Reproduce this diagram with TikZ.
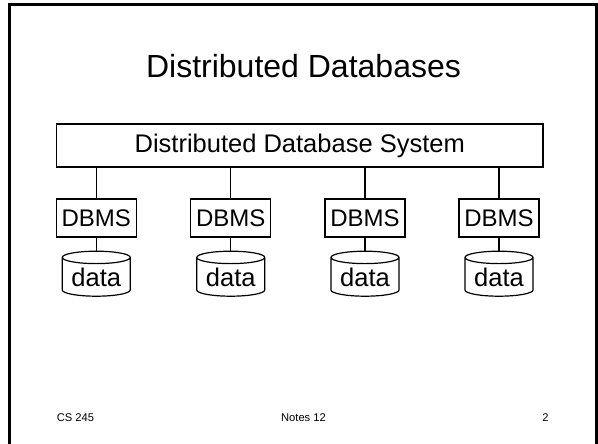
\documentclass[tikz,border=0pt]{standalone}
\usepackage{fontspec}
\setmainfont{Liberation Sans}
\usepackage{tikz}
\usetikzlibrary{positioning,shapes.geometric}
\definecolor{ink}{RGB}{0,0,0}
\tikzset{
  sysbox/.style={draw=ink,line width=1.2pt,minimum width=486.5pt,minimum height=43pt,
    inner sep=0pt,font=\fontsize{25.5}{30}\selectfont},
  dbmsbox/.style={draw=ink,line width=1.2pt,minimum width=80pt,minimum height=38pt,
    inner sep=0pt,font=\fontsize{24}{28}\selectfont},
  store/.style={draw=ink,line width=1.2pt,cylinder,shape border rotate=90,aspect=0.25,
    minimum width=68pt,minimum height=45pt,inner sep=0pt,font=\fontsize{25.5}{30}\selectfont},
  link/.style={draw=ink,line width=1.3pt},
  foot/.style={font=\fontsize{11.2}{13}\selectfont,text=ink},
}
\begin{document}
\begin{tikzpicture}[x=1pt,y=-1pt]
  \useasboundingbox (0,0) rectangle (598,444);
  % slide frame, open at the bottom
  \draw[line width=3pt] (9.5,460) -- (9.5,4.5) -- (596.8,4.5) -- (596.8,460);
  \node[font=\fontsize{32}{38}\selectfont,anchor=base] (title) at (303.5,77.7) {Distributed Databases};
  \node[sysbox] (sys) at (299.75,145.5) {Distributed Database System};
  \node[dbmsbox] (d1) at (96.25,218) {DBMS};
  \node[dbmsbox] (d2) at (230.75,218) {DBMS};
  \node[dbmsbox] (d3) at (365,218) {DBMS};
  \node[dbmsbox] (d4) at (499,218) {DBMS};
  \node[store,below=13pt of d1] (c1) {data};
  \node[store,below=13pt of d2] (c2) {data};
  \node[store,below=13pt of d3] (c3) {data};
  \node[store,below=13pt of d4] (c4) {data};
  \draw[link] (d1) -- (d1 |- sys.south);
  \draw[link] (d2) -- (d2 |- sys.south);
  \draw[link] (d3) -- (d3 |- sys.south);
  \draw[link] (d4) -- (d4 |- sys.south);
  \draw[link] (d1) -- (c1);
  \draw[link] (d2) -- (c2);
  \draw[link] (d3) -- (c3);
  \draw[link] (d4) -- (c4);
  % footer
  \node[foot] (course) at (75.5,418) {CS 245};
  \node[foot] (notes) at (303.5,418) {Notes 12};
  \node[foot] (page) at (545.5,418) {2};
\end{tikzpicture}
\end{document}
